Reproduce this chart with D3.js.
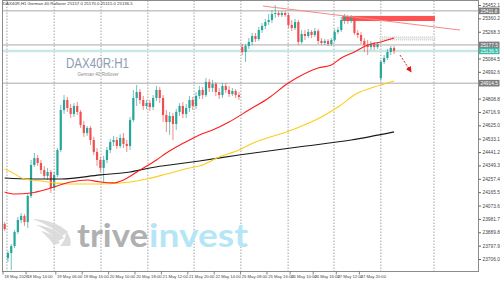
<!DOCTYPE html>
<html>
<head>
<meta charset="utf-8">
<script src="https://cdn.jsdelivr.net/npm/d3@7"></script>
<style>
  html, body { margin: 0; padding: 0; background: #fff; }
  svg { display: block; font-family: "Liberation Sans", Arial, sans-serif; }
</style>
</head>
<body>
<script>
'use strict';

// H1 candles: [open, high, low, close]
const candles = [
  [23947, 23960, 23899, 23912], [23713, 23761, 23686, 23747], [23747, 23809, 23631, 23795],
  [23795, 23905, 23782, 23892], [23892, 23995, 23878, 23974], [23974, 24022, 23953, 24002],
  [24002, 24015, 23933, 23960], [23960, 24153, 23919, 24139], [24139, 24387, 24125, 24352],
  [24352, 24435, 24339, 24400], [24400, 24421, 24345, 24366], [24366, 24387, 24290, 24318],
  [24318, 24345, 24256, 24277], [24277, 24332, 24249, 24304], [24304, 24318, 24160, 24194],
  [24194, 24304, 24180, 24283], [24283, 24469, 24270, 24455], [24455, 24765, 24442, 24730],
  [24730, 24833, 24703, 24799], [24799, 24820, 24717, 24744], [24744, 24772, 24675, 24703],
  [24703, 24778, 24682, 24758], [24758, 24785, 24696, 24717], [24717, 24730, 24607, 24627],
  [24627, 24655, 24545, 24572], [24572, 24620, 24552, 24607], [24607, 24620, 24490, 24524],
  [24524, 24545, 24421, 24442], [24442, 24469, 24345, 24387], [24387, 24407, 24304, 24332],
  [24332, 24414, 24229, 24387], [24387, 24476, 24366, 24455], [24455, 24531, 24435, 24510],
  [24510, 24552, 24483, 24524], [24524, 24545, 24462, 24483], [24483, 24565, 24469, 24538],
  [24538, 24572, 24469, 24497], [24497, 24524, 24442, 24483], [24483, 24682, 24455, 24662],
  [24662, 24868, 24648, 24813], [24813, 24902, 24758, 24854], [24854, 24875, 24772, 24799],
  [24799, 24827, 24730, 24758], [24758, 24799, 24737, 24778], [24778, 24799, 24723, 24751],
  [24751, 24833, 24730, 24813], [24813, 24895, 24792, 24868], [24868, 24888, 24778, 24813],
  [24813, 24833, 24648, 24696], [24696, 24730, 24579, 24648], [24648, 24717, 24559, 24689],
  [24689, 24710, 24524, 24634], [24634, 24737, 24593, 24717], [24717, 24778, 24689, 24758],
  [24758, 24785, 24675, 24703], [24703, 24772, 24675, 24744], [24744, 24827, 24717, 24799],
  [24799, 24820, 24730, 24758], [24758, 24854, 24737, 24827], [24827, 24895, 24806, 24868],
  [24868, 24888, 24806, 24833], [24833, 24950, 24820, 24923], [24923, 24943, 24854, 24882],
  [24882, 24937, 24854, 24909], [24909, 24923, 24827, 24854], [24854, 24882, 24806, 24833],
  [24833, 24916, 24813, 24895], [24895, 24916, 24847, 24868], [24868, 24895, 24820, 24840],
  [24840, 24882, 24827, 24861], [24861, 24875, 24813, 24833], [24833, 24854, 24799, 24820],
  [25163, 25184, 25108, 25129], [25129, 25184, 25060, 25170], [25170, 25225, 25150, 25198],
  [25198, 25260, 25177, 25239], [25239, 25260, 25198, 25218], [25218, 25301, 25205, 25280],
  [25280, 25328, 25260, 25308], [25308, 25356, 25287, 25335], [25335, 25390, 25315, 25349],
  [25349, 25418, 25328, 25390], [25390, 25452, 25363, 25397], [25397, 25411, 25370, 25383],
  [25383, 25411, 25370, 25397], [25397, 25411, 25370, 25383], [25383, 25397, 25294, 25315],
  [25315, 25349, 25273, 25294], [25294, 25356, 25280, 25335], [25335, 25349, 25177, 25198],
  [25198, 25280, 25184, 25253], [25253, 25280, 25212, 25239], [25239, 25287, 25225, 25267],
  [25267, 25280, 25225, 25246], [25246, 25294, 25232, 25273], [25273, 25287, 25184, 25205],
  [25205, 25225, 25177, 25191], [25191, 25218, 25177, 25205], [25205, 25218, 25170, 25184],
  [25184, 25225, 25170, 25212], [25212, 25287, 25198, 25267], [25267, 25301, 25253, 25280],
  [25280, 25370, 25267, 25349], [25349, 25390, 25322, 25370], [25370, 25383, 25322, 25342],
  [25342, 25383, 25328, 25363], [25363, 25377, 25246, 25260], [25260, 25280, 25225, 25246],
  [25246, 25267, 25184, 25205], [25205, 25225, 25129, 25177], [25177, 25212, 25108, 25163],
  [25163, 25205, 25143, 25184], [25184, 25198, 25143, 25163], [25163, 25198, 25150, 25184],
  [24950, 25074, 24930, 25060], [25060, 25108, 25047, 25088], [25088, 25150, 25074, 25129],
  [25129, 25170, 25108, 25157], [25157, 25170, 25115, 25136.5]
];

// moving averages: [bar index, price]
const maRed = [[0,24167],[3,24153],[8,24160],[12,24180],[14,24194],[20,24235],[25,24249],[29,24235],
  [33,24229],[36,24249],[41,24318],[46,24387],[49,24435],[52,24476],[56,24524],[59,24559],[63,24593],
  [68,24648],[74,24730],[80,24813],[86,24916],[89,24957],[95,25019],[99,25040],[102,25088],[106,25129],
  [110,25177],[114,25198],[118,25225]];
const maYellow = [[0,24325],[2,24304],[6,24256],[11,24242],[15,24229],[20,24222],[29,24222],[38,24235],
  [43,24256],[49,24290],[56,24332],[59,24345],[65,24407],[71,24455],[74,24490],[87,24593],[96,24682],
  [101,24751],[107,24847],[112,24888],[118,24930]];
const maBlack = [[0,24263],[8,24256],[17,24256],[29,24284],[38,24304],[44,24332],[50,24352],[59,24380],
  [71,24421],[89,24476],[105,24524],[118,24580]];

// price axis ticks and marked levels
const priceTicks = [25452.1, 25360.2, 25268.3, 25176.4, 25084.5, 24992.6, 24900.7, 24808.8, 24716.9,
  24625.0, 24533.1, 24441.2, 24349.3, 24257.4, 24165.5, 24073.6, 23981.7, 23889.8, 23797.9, 23706.0];
const levels = [25411.8, 25177.5, 24914.5];
const bidPrice = 25136.5;

// time axis
const timeIdx = [0, 7, 16, 24, 32, 40, 48, 56, 64, 72, 80, 87, 94, 101, 108];
const timeLabels = ['18 May 2026', '18 May 14:00', '19 May 06:00', '19 May 16:00', '20 May 10:00',
  '20 May 18:00', '21 May 12:00', '21 May 20:00', '22 May 14:00', '25 May 09:00', '25 May 16:00',
  '26 May 10:00', '26 May 16:00', '27 May 12:00', '27 May 20:00'];
const gridIdx = [0.7, 15, 29.2, 43.4, 57.4, 71.6, 85.9, 99.8, 114, 130.1];

// drawn objects
const zone = {from: 102.3, to: 130.4, top: 25377, bottom: 25342};
const boxZone = {from: 113.7, to: 130.4, top: 25232, bottom: 25212};
const trend = [[78.3, 25445], [138, 25280]];
const arrow = [[119.8, 25108], [122.8, 25005]];

const W = 500, H = 281;
const plot = {left: 2.5, right: 478.5, top: 0.5, bottom: 271.5};
const UP = '#26a69a', DOWN = '#ef4f4f';

const x = d3.scaleLinear().domain([0, 143]).range([4.65, 4.65 + 3.3 * 143]);
const y = d3.scaleLinear().domain([23706, 25452.1]).range([259, 5]);

const svg = d3.select('body').append('svg')
  .attr('width', W).attr('height', H);

const defs = svg.append('defs');
defs.append('clipPath').attr('id', 'clip')
  .append('rect')
  .attr('x', plot.left).attr('y', plot.top)
  .attr('width', plot.right - plot.left).attr('height', plot.bottom - plot.top);
defs.append('marker')
  .attr('id', 'head').attr('viewBox', '0 0 10 10')
  .attr('refX', 5).attr('refY', 5)
  .attr('markerWidth', 6).attr('markerHeight', 6)
  .attr('orient', 'auto')
  .append('path').attr('d', 'M0,0 L10,5 L0,10 Z').attr('fill', '#e01818');

const g = svg.append('g').attr('clip-path', 'url(#clip)');

// vertical grid
g.selectAll('.grid').data(gridIdx).enter().append('line')
  .attr('x1', d => x(d)).attr('x2', d => x(d))
  .attr('y1', plot.top).attr('y2', plot.bottom)
  .attr('stroke', '#8a8a8a').attr('stroke-width', 0.8)
  .attr('stroke-dasharray', '1.5,1.5');

// watermark
g.append('text')
  .attr('x', 66).attr('y', 68)
  .attr('textLength', 63).attr('lengthAdjust', 'spacingAndGlyphs')
  .attr('font-size', 15).attr('fill', '#8d9db3')
  .text('DAX40R:H1');
g.append('text')
  .attr('x', 98).attr('y', 75.5).attr('text-anchor', 'middle')
  .attr('font-size', 4.6).attr('fill', '#8c8c8c')
  .text('German 40 Rollover');

// logo wing
const wing = g.append('g').attr('fill', '#d9d9d9').attr('opacity', 0.9);
wing.append('path').attr('d', 'M32,219 C45,219 60,224 68,232 L62,236 C55,229 44,223 32,219 Z');
wing.append('path').attr('d', 'M36,225 C48,226 58,231 64,238 L58,241 C52,234 45,229 36,225 Z');
wing.append('path').attr('d', 'M41,231 C50,233 56,237 60,243 L54,245 C50,240 46,235 41,231 Z');
wing.append('path').attr('d', 'M66,231 C70,236 72,241 70,246 L60,246 C64,242 66,237 66,231 Z');

g.append('text')
  .attr('x', 77).attr('y', 247)
  .attr('textLength', 71).attr('lengthAdjust', 'spacingAndGlyphs')
  .attr('font-family', 'Lato, sans-serif').attr('font-weight', 700)
  .attr('font-size', 32).attr('fill', '#a3a3a3').attr('opacity', 0.85)
  .text('trive');
g.append('text')
  .attr('x', 149).attr('y', 247)
  .attr('textLength', 99).attr('lengthAdjust', 'spacingAndGlyphs')
  .attr('font-family', 'Lato, sans-serif').attr('font-weight', 700)
  .attr('font-size', 32).attr('fill', '#b4e6f6')
  .text('invest');

// horizontal levels and bid line
g.selectAll('.level').data(levels).enter().append('line')
  .attr('x1', plot.left).attr('x2', plot.right)
  .attr('y1', d => y(d)).attr('y2', d => y(d))
  .attr('stroke', '#aaaaaa').attr('stroke-width', 1);
g.append('line')
  .attr('x1', plot.left).attr('x2', plot.right)
  .attr('y1', y(bidPrice)).attr('y2', y(bidPrice))
  .attr('stroke', '#c6e9e5').attr('stroke-width', 2.5);

// gray dotted box
g.append('rect')
  .attr('x', x(boxZone.from)).attr('y', y(boxZone.top))
  .attr('width', x(boxZone.to) - x(boxZone.from))
  .attr('height', y(boxZone.bottom) - y(boxZone.top))
  .attr('fill', '#f0f0f0').attr('stroke', '#b8b8b8')
  .attr('stroke-width', 0.8).attr('stroke-dasharray', '1,1');

// red zone
g.append('rect')
  .attr('x', x(zone.from)).attr('y', y(zone.top))
  .attr('width', x(zone.to) - x(zone.from))
  .attr('height', y(zone.bottom) - y(zone.top))
  .attr('fill', '#ff5252');

// candles
const bar = g.selectAll('.candle').data(candles).enter().append('g');
bar.append('line')
  .attr('x1', (d, i) => x(i)).attr('x2', (d, i) => x(i))
  .attr('y1', d => y(d[1])).attr('y2', d => y(d[2]))
  .attr('stroke', d => d[3] >= d[0] ? UP : DOWN)
  .attr('stroke-opacity', 0.75).attr('stroke-width', 0.9);
bar.append('rect')
  .attr('x', (d, i) => x(i) - 1.1).attr('width', 2.2)
  .attr('y', d => y(Math.max(d[0], d[3])))
  .attr('height', d => Math.max(1, Math.abs(y(d[0]) - y(d[3]))))
  .attr('fill', d => d[3] >= d[0] ? UP : DOWN);

// moving averages
const line = d3.line().x(d => x(d[0])).y(d => y(d[1])).curve(d3.curveMonotoneX);
[[maBlack, '#1a1a1a'], [maYellow, '#ffcc1a'], [maRed, '#ff1c1c']].forEach(([data, color]) => {
  g.append('path').attr('d', line(data))
    .attr('fill', 'none').attr('stroke', color).attr('stroke-width', 1.1);
});

// trend line
g.append('line')
  .attr('x1', x(trend[0][0])).attr('y1', y(trend[0][1]))
  .attr('x2', x(trend[1][0])).attr('y2', y(trend[1][1]))
  .attr('stroke', '#f48a8a').attr('stroke-width', 1);

// arrow
g.append('line')
  .attr('x1', x(arrow[0][0])).attr('y1', y(arrow[0][1]))
  .attr('x2', x(arrow[1][0])).attr('y2', y(arrow[1][1]))
  .attr('stroke', '#e01818').attr('stroke-width', 1)
  .attr('stroke-dasharray', '2,1.5')
  .attr('marker-end', 'url(#head)');

// frame
svg.append('rect')
  .attr('x', plot.left).attr('y', plot.top)
  .attr('width', plot.right - plot.left).attr('height', plot.bottom - plot.top)
  .attr('fill', 'none').attr('stroke', '#8c8c8c').attr('stroke-width', 1);

// price boxes hide the axis labels they sit on
const boxes = levels.map(v => ({v, fill: '#7d7d7d'})).concat([{v: bidPrice, fill: '#3dbaa9'}]);
const visibleTicks = priceTicks.filter(t => boxes.every(b => Math.abs(y(t) - y(b.v)) > 5));

// price axis
const yAxis = d3.axisRight(y)
  .tickValues(visibleTicks)
  .tickFormat(d => d.toFixed(1))
  .tickSize(2.5).tickPadding(1.5);
const ya = svg.append('g')
  .attr('transform', `translate(${plot.right},0)`)
  .call(yAxis);
ya.select('.domain').remove();
ya.selectAll('line').attr('stroke', '#666');
ya.selectAll('text').attr('font-size', 4.8).attr('fill', '#444')
  .attr('font-family', '"Liberation Sans", Arial, sans-serif');

const pb = svg.selectAll('.pbox').data(boxes).enter().append('g')
  .attr('transform', d => `translate(${plot.right},${y(d.v)})`);
pb.append('rect')
  .attr('x', 0.5).attr('y', -3.3).attr('width', 20.5).attr('height', 6.6)
  .attr('fill', d => d.fill);
pb.append('text')
  .attr('x', 2).attr('y', 1.8)
  .attr('font-size', 4.8).attr('fill', '#fff')
  .text(d => d.v.toFixed(1));

// time axis
const ta = svg.selectAll('.tlabel').data(timeIdx).enter().append('g')
  .attr('transform', d => `translate(${x(d) - 1.65},${plot.bottom})`);
ta.append('line')
  .attr('y1', 0).attr('y2', 3).attr('stroke', '#666').attr('stroke-width', 0.8);
ta.append('text')
  .attr('x', 1.2).attr('y', 6)
  .attr('font-size', 4.2).attr('fill', '#444')
  .text((d, i) => timeLabels[i]);

// header
const last = candles[candles.length - 1];
svg.append('text')
  .attr('x', 3).attr('y', 5)
  .attr('font-size', 4.3).attr('fill', '#333')
  .text(`DAX40R,H1  German 40 Rollover  ${last.map(v => v.toFixed(1)).join(' ')}`);
</script>
</body>
</html>
